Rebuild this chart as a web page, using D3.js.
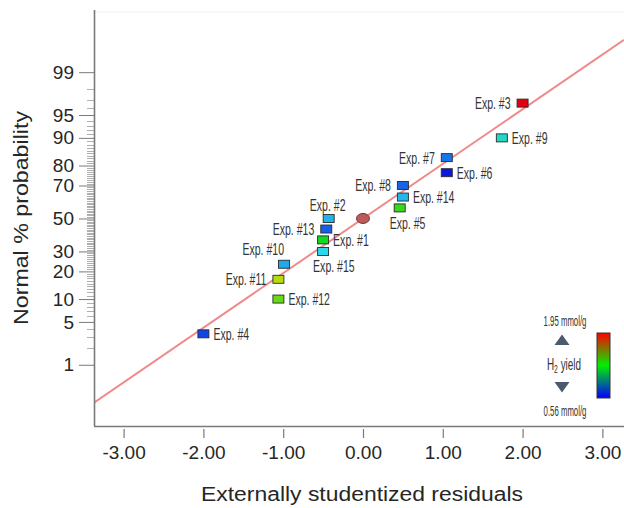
<!DOCTYPE html>
<html>
<head>
<meta charset="utf-8">
<script src="https://cdn.jsdelivr.net/npm/d3@7"></script>
<style>
  html, body { margin: 0; padding: 0; background: #fff; }
  svg { display: block; }
</style>
</head>
<body>
<svg id="chart" width="624" height="508"></svg>
<script>
// ---------------- data ----------------
const experiments = ["Exp. #1","Exp. #2","Exp. #3","Exp. #4","Exp. #5","Exp. #6","Exp. #7","Exp. #8",
                     "Exp. #9","Exp. #10","Exp. #11","Exp. #12","Exp. #13","Exp. #14","Exp. #15"];
const residuals = [-0.50, -0.43, 2.00, -2.00, 0.46, 1.05, 1.05, 0.50, 1.74, -0.99, -1.06, -1.06, -0.46, 0.50, -0.50];
const probabilities = [36.67, 50.00, 96.67, 3.33, 56.67, 76.67, 83.33, 70.00, 90.00, 23.33, 16.67, 10.00, 43.33, 63.33, 30.00];
const h2Yield = [1.26, 0.84, 1.95, 0.64, 1.32, 0.56, 0.73, 0.70, 0.98, 0.82, 1.52, 1.39, 0.69, 0.85, 0.91];
const yieldRange = [0.56, 1.95];
const yTickValues = [1, 5, 10, 20, 30, 50, 70, 80, 90, 95, 99];
const xTickValues = [-3, -2, -1, 0, 1, 2, 3];
const refLineX = [-3.371, 3.271];
const refLineP = [0.17, 99.775];
const centerPoint = { x: 0, p: 50 };

// ---------------- helpers ----------------
function probit(p) { // inverse normal CDF (Acklam)
  const a = [-3.969683028665376e+01, 2.209460984245205e+02, -2.759285104469687e+02, 1.383577518672690e+02, -3.066479806614716e+01, 2.506628277459239e+00];
  const b = [-5.447609879822406e+01, 1.615858368580409e+02, -1.556989798598866e+02, 6.680131188771972e+01, -1.328068155288572e+01];
  const c = [-7.784894002430293e-03, -3.223964580411365e-01, -2.400758277161838e+00, -2.549671503027304e+00, 4.374664141464968e+00, 2.938163982698783e+00];
  const d = [7.784695709041462e-03, 3.224671290700398e-01, 2.445134137142996e+00, 3.754408661907416e+00];
  const pl = 0.02425, ph = 1 - pl;
  let q, r;
  if (p < pl) { q = Math.sqrt(-2 * Math.log(p));
    return (((((c[0]*q+c[1])*q+c[2])*q+c[3])*q+c[4])*q+c[5]) / ((((d[0]*q+d[1])*q+d[2])*q+d[3])*q+1); }
  if (p <= ph) { q = p - 0.5; r = q*q;
    return (((((a[0]*r+a[1])*r+a[2])*r+a[3])*r+a[4])*r+a[5])*q / (((((b[0]*r+b[1])*r+b[2])*r+b[3])*r+b[4])*r+1); }
  q = Math.sqrt(-2 * Math.log(1 - p));
  return -(((((c[0]*q+c[1])*q+c[2])*q+c[3])*q+c[4])*q+c[5]) / ((((d[0]*q+d[1])*q+d[2])*q+d[3])*q+1);
}

// ---------------- layout ----------------
const svg = d3.select("#chart");
const plotLeft = 94, plotRight = 624, plotTop = 10, plotBottom = 426;
const x = d3.scaleLinear().domain([-3.371, 3.271]).range([plotLeft, plotRight]);
const zScale = d3.scaleLinear().domain([-3.30, 3.315]).range([plotBottom, plotTop]);
const y = p => zScale(probit(p / 100));

const color = d3.scaleLinear()
  .domain(d3.range(5).map(i => yieldRange[0] + i * (yieldRange[1] - yieldRange[0]) / 4))
  .range(["#0a18e0", "#28d8f0", "#10d820", "#e8e000", "#e00010"])
  .interpolate(d3.interpolateRgb);

const axisColor = "#7a7a7a";
const textColor = "#262626";
const mainFont = "'Liberation Sans', Arial, sans-serif";
const narrowScale = 0.62;

// faint top border
svg.append("line").attr("x1", plotLeft).attr("x2", plotRight).attr("y1", plotTop + 2).attr("y2", plotTop + 2)
  .attr("stroke", "#f0f0f0").attr("stroke-width", 1);

// clip
const defs = svg.append("defs");
defs.append("clipPath").attr("id", "plotClip")
  .append("rect").attr("x", plotLeft).attr("y", plotTop).attr("width", plotRight - plotLeft).attr("height", plotBottom - plotTop);

// reference line
const refData = refLineX.map((v, i) => ({ x: v, p: refLineP[i] }));
svg.append("path").datum(refData)
  .attr("clip-path", "url(#plotClip)")
  .attr("d", d3.line().x(d => x(d.x)).y(d => y(d.p)))
  .attr("fill", "none").attr("stroke", "#f08a8a").attr("stroke-width", 2);

// y minor ticks
const minorTicks = d3.range(1, 100).filter(v => !yTickValues.includes(v));
svg.append("g").selectAll("line").data(minorTicks).join("line")
  .attr("x1", plotLeft - 7).attr("x2", plotLeft)
  .attr("y1", d => Math.round(y(d)) + 0.5).attr("y2", d => Math.round(y(d)) + 0.5)
  .attr("stroke", "#9a9a9a").attr("stroke-width", 0.8);

// y axis
const yAxis = d3.axisLeft(zScale)
  .tickValues(yTickValues.map(v => probit(v / 100)))
  .tickFormat((d, i) => yTickValues[i])
  .tickSize(15).tickPadding(5);
const gy = svg.append("g").attr("transform", `translate(${plotLeft},0)`).call(yAxis);
gy.select(".domain").attr("stroke", axisColor).attr("stroke-width", 1.6)
  .attr("d", `M0.5,${plotTop}V${plotBottom}`);
gy.selectAll(".tick line").attr("stroke", axisColor).attr("stroke-width", 1);
gy.selectAll(".tick text").attr("fill", textColor)
  .style("font-family", mainFont).style("font-size", "19px");

// x axis
const xAxis = d3.axisBottom(x).tickValues(xTickValues)
  .tickFormat(d => d3.format(".2f")(d).replace("\u2212", "-"))
  .tickSize(9).tickPadding(11);
const gx = svg.append("g").attr("transform", `translate(0,${plotBottom})`).call(xAxis);
gx.select(".domain").attr("stroke", axisColor).attr("stroke-width", 1.6)
  .attr("d", `M${plotLeft},0.5H${plotRight}`);
gx.selectAll(".tick line").attr("stroke", axisColor).attr("stroke-width", 1.2).attr("y1", 3).attr("y2", 12);
gx.selectAll(".tick text").attr("fill", textColor)
  .style("font-family", mainFont).style("font-size", "19px");

// axis titles
svg.append("text").attr("x", 362).attr("y", 501).attr("text-anchor", "middle")
  .attr("textLength", 322).attr("lengthAdjust", "spacingAndGlyphs")
  .attr("fill", textColor).style("font-family", mainFont).style("font-size", "20px")
  .text("Externally studentized residuals");
svg.append("text").attr("transform", "translate(28,218) rotate(-90)").attr("text-anchor", "middle")
  .attr("x", 0).attr("y", 0)
  .attr("textLength", 214).attr("lengthAdjust", "spacingAndGlyphs")
  .attr("fill", textColor).style("font-family", mainFont).style("font-size", "20px")
  .text("Normal % probability");

// center marker
svg.append("ellipse").attr("cx", x(centerPoint.x)).attr("cy", y(centerPoint.p))
  .attr("rx", 6.5).attr("ry", 5).attr("fill", "#bd5b5b").attr("stroke", "#6b3535").attr("stroke-width", 1);

// points
const points = experiments.map((name, i) => ({ name, r: residuals[i], p: probabilities[i], v: h2Yield[i] }));
svg.append("g").selectAll("rect").data(points).join("rect")
  .attr("x", d => x(d.r) - 5.5).attr("y", d => y(d.p) - 4)
  .attr("width", 11).attr("height", 8)
  .attr("fill", d => color(d.v)).attr("stroke", "#2a2a2a").attr("stroke-width", 0.9);

// label placement (layout only)
const placement = {
  "Exp. #1": "right", "Exp. #2": "above", "Exp. #3": "left", "Exp. #4": "right", "Exp. #5": "below",
  "Exp. #6": "right", "Exp. #7": "left", "Exp. #8": "left", "Exp. #9": "right", "Exp. #10": "aboveleft",
  "Exp. #11": "left", "Exp. #12": "right", "Exp. #13": "left", "Exp. #14": "right", "Exp. #15": "below"
};
function labelPos(d) {
  const px = x(d.r), py = y(d.p), s = placement[d.name];
  if (s === "left") return [px - 12, py + 6];
  if (s === "right") return [px + 10, py + 6];
  if (s === "above") return [px - 1, py - 7];
  if (s === "aboveleft") return [px, py - 9];
  return [px - 10, py + 21];
}
svg.append("g").selectAll("text").data(points).join("text")
  .attr("transform", d => { const [tx, ty] = labelPos(d); return `translate(${tx},${ty}) scale(${narrowScale},1)`; })
  .attr("text-anchor", d => {
    const s = placement[d.name];
    if (s === "left" || s === "aboveleft") return "end";
    if (s === "above") return "middle";
    return "start";
  })
  .attr("fill", "#333")
  .style("font-family", mainFont).style("font-size", "17px")
  .text(d => d.name);

// legend
const lg = svg.append("g");
const grad = defs.append("linearGradient").attr("id", "yieldGrad")
  .attr("x1", 0).attr("y1", 0).attr("x2", 0).attr("y2", 1);
grad.append("stop").attr("offset", "0%").attr("stop-color", "#ff0000");
grad.append("stop").attr("offset", "50%").attr("stop-color", "#00f000");
grad.append("stop").attr("offset", "100%").attr("stop-color", "#0000ff");
lg.append("rect").attr("x", 597).attr("y", 333).attr("width", 13).attr("height", 65)
  .attr("fill", "url(#yieldGrad)").attr("stroke", "#333").attr("stroke-width", 1);
const legendScale = 0.52;
lg.append("text").attr("transform", `translate(565,326) scale(${legendScale},1)`)
  .attr("text-anchor", "middle").attr("fill", "#333")
  .style("font-family", mainFont).style("font-size", "15px").text(yieldRange[1].toFixed(2) + " mmol/g");
lg.append("text").attr("transform", `translate(565,416) scale(${legendScale},1)`)
  .attr("text-anchor", "middle").attr("fill", "#333")
  .style("font-family", mainFont).style("font-size", "15px").text(yieldRange[0].toFixed(2) + " mmol/g");
const hy = lg.append("text").attr("transform", `translate(564,370) scale(${narrowScale},1)`)
  .attr("text-anchor", "middle").attr("fill", "#333")
  .style("font-family", mainFont).style("font-size", "16px");
hy.append("tspan").text("H");
hy.append("tspan").attr("dy", 3).style("font-size", "11px").text("2");
hy.append("tspan").attr("dy", -3).text(" yield");
lg.append("path").attr("d", "M554.5,345 L569.5,345 L562,334.5 Z").attr("fill", "#4b5a6e");
lg.append("path").attr("d", "M554.5,382 L569.5,382 L562,392.5 Z").attr("fill", "#4b5a6e");
</script>
</body>
</html>
